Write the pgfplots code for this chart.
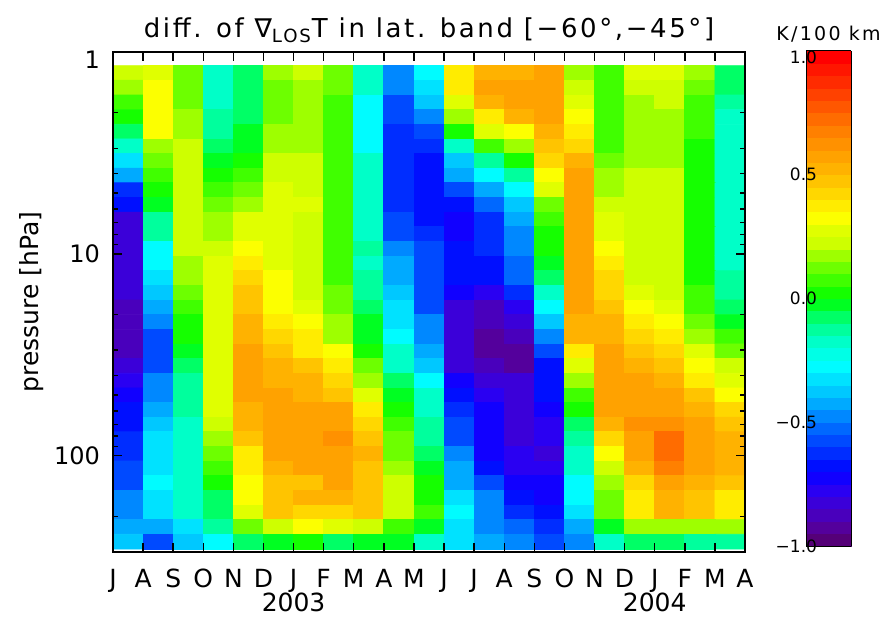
\documentclass[border=0pt]{standalone}
\usepackage{pgfplots}
\pgfplotsset{compat=1.18}
\usepackage{fontspec}
\setmainfont{DejaVu Sans}
\pgfplotsset{
 colormap={idlbase}{rgb255(0cm)=(85,0,120); rgb255(0.045cm)=(85,0,153); rgb255(0.125cm)=(68,0,204); rgb255(0.225cm)=(34,0,255); rgb255(0.275cm)=(0,0,255); rgb255(0.475cm)=(0,119,255); rgb255(0.575cm)=(0,187,255); rgb255(0.705cm)=(0,255,255); rgb255(0.795cm)=(0,255,204); rgb255(0.875cm)=(0,255,136); rgb255(0.975cm)=(0,255,0); rgb255(1.075cm)=(85,255,0); rgb255(1.145cm)=(153,255,0); rgb255(1.195cm)=(204,255,0); rgb255(1.245cm)=(221,255,0); rgb255(1.305cm)=(255,255,0); rgb255(1.425cm)=(255,204,0); rgb255(1.525cm)=(255,170,0); rgb255(1.675cm)=(255,119,0); rgb255(1.95cm)=(255,0,0)},
 colormap={idl}{samples of colormap=(40 of idlbase)},
}
\begin{document}
\begin{tikzpicture}
\begin{axis}[
 name=main,
 scale only axis, width=316pt, height=250pt,
 xmin=0, xmax=21, ymin=0, ymax=2.4771, y dir=reverse,
 xtick={0,...,21},
 xticklabels={J,A,S,O,N,D,{J\\2003},F,M,A,M,J,J,A,S,O,N,D,{J\\2004},F,M,A},
 xticklabel style={align=center, anchor=north, yshift=-5pt, font=\fontsize{12.5}{12}\selectfont},
 ytick={1,2}, yticklabels={10,100},
 extra y ticks={0}, extra y tick labels={1},
 extra y tick style={yticklabel style={yshift=-4pt}},
 minor ytick={0.30103,0.47712,0.60206,0.69897,0.77815,0.8451,0.90309,0.95424,1.30103,1.47712,1.60206,1.69897,1.77815,1.8451,1.90309,1.95424,2.30103},
 yticklabel style={font=\fontsize{12}{14}\selectfont, xshift=-3pt},
 tick align=inside, major tick length=4.5pt, minor tick length=2.5pt,
 every tick/.style={black, line width=0.7pt},
 axis line style={line width=0.9pt},
 ylabel={pressure [hPa]},
 every axis y label/.style={at={(axis description cs:-0.128,0.5)}, rotate=90, anchor=center, font=\fontsize{12.5}{14}\selectfont},
 title={diff. of ∇\textsubscript{LOS}T in lat. band [−60°,−45°]},
 title style={font=\fontsize{13}{15}\selectfont\addfontfeature{LetterSpace=10}, at={(0.5,1)}, anchor=base, yshift=1.5pt},
 colormap name=idl, colormap access=piecewise constant,
 point meta min=-1, point meta max=1,
 colorbar,
 colorbar style={
  at={(parent axis.north east)}, anchor=north west, xshift=22pt, yshift=0.5pt,
  width=22.5pt, height=247.5pt,
  ytick={-1,-0.5,0,0.5}, yticklabels={−1.0,−0.5,0.0,0.5},
  extra y ticks={1}, extra y tick labels={1.0},
  extra y tick style={yticklabel style={yshift=-3pt}},
  yticklabel pos=left, major tick length=0pt,
  yticklabel style={font=\fontsize{8.5}{10}\selectfont, xshift=9pt},
  title={K/100 km}, title style={font=\fontsize{9.5}{12}\selectfont\addfontfeature{LetterSpace=12}, yshift=-5pt},
  axis line style={line width=0.5pt},
 },
 axis on top,
]
\addplot[matrix plot*, point meta=explicit, mesh/cols=21, mesh/rows=33, mesh/ordering=y varies] table[meta=c] {
x y c
0.5 0.1043 0.22
0.5 0.1768 0.17
0.5 0.2494 0.05
0.5 0.3219 0.0
0.5 0.3945 -0.1
0.5 0.4670 -0.18
0.5 0.5396 -0.33
0.5 0.6121 -0.45
0.5 0.6847 -0.63
0.5 0.7572 -0.7
0.5 0.8298 -0.82
0.5 0.9023 -0.82
0.5 0.9749 -0.82
0.5 1.0474 -0.82
0.5 1.1200 -0.82
0.5 1.1925 -0.82
0.5 1.2651 -0.87
0.5 1.3376 -0.87
0.5 1.4102 -0.87
0.5 1.4827 -0.87
0.5 1.5553 -0.85
0.5 1.6278 -0.78
0.5 1.7004 -0.72
0.5 1.7729 -0.66
0.5 1.8455 -0.66
0.5 1.9180 -0.63
0.5 1.9906 -0.63
0.5 2.0631 -0.57
0.5 2.1357 -0.57
0.5 2.2082 -0.5
0.5 2.2808 -0.5
0.5 2.3533 -0.42
0.5 2.4259 -0.4

1.5 0.1043 0.27
1.5 0.1768 0.33
1.5 0.2494 0.33
1.5 0.3219 0.33
1.5 0.3945 0.3
1.5 0.4670 0.17
1.5 0.5396 0.1
1.5 0.6121 0.05
1.5 0.6847 0.0
1.5 0.7572 -0.05
1.5 0.8298 -0.12
1.5 0.9023 -0.15
1.5 0.9749 -0.27
1.5 1.0474 -0.27
1.5 1.1200 -0.33
1.5 1.1925 -0.38
1.5 1.2651 -0.45
1.5 1.3376 -0.5
1.5 1.4102 -0.57
1.5 1.4827 -0.57
1.5 1.5553 -0.57
1.5 1.6278 -0.5
1.5 1.7004 -0.5
1.5 1.7729 -0.45
1.5 1.8455 -0.4
1.5 1.9180 -0.35
1.5 1.9906 -0.35
1.5 2.0631 -0.35
1.5 2.1357 -0.27
1.5 2.2082 -0.35
1.5 2.2808 -0.35
1.5 2.3533 -0.42
1.5 2.4259 -0.57

2.5 0.1043 0.1
2.5 0.1768 0.1
2.5 0.2494 0.1
2.5 0.3219 0.17
2.5 0.3945 0.17
2.5 0.4670 0.22
2.5 0.5396 0.22
2.5 0.6121 0.22
2.5 0.6847 0.22
2.5 0.7572 0.22
2.5 0.8298 0.22
2.5 0.9023 0.22
2.5 0.9749 0.22
2.5 1.0474 0.17
2.5 1.1200 0.17
2.5 1.1925 0.1
2.5 1.2651 0.05
2.5 1.3376 0.02
2.5 1.4102 0.02
2.5 1.4827 -0.05
2.5 1.5553 -0.1
2.5 1.6278 -0.13
2.5 1.7004 -0.13
2.5 1.7729 -0.13
2.5 1.8455 -0.18
2.5 1.9180 -0.18
2.5 1.9906 -0.18
2.5 2.0631 -0.18
2.5 2.1357 -0.18
2.5 2.2082 -0.18
2.5 2.2808 -0.18
2.5 2.3533 -0.33
2.5 2.4259 -0.4

3.5 0.1043 -0.18
3.5 0.1768 -0.18
3.5 0.2494 -0.18
3.5 0.3219 -0.13
3.5 0.3945 -0.13
3.5 0.4670 -0.1
3.5 0.5396 -0.05
3.5 0.6121 0.0
3.5 0.6847 0.05
3.5 0.7572 0.1
3.5 0.8298 0.17
3.5 0.9023 0.17
3.5 0.9749 0.22
3.5 1.0474 0.25
3.5 1.1200 0.25
3.5 1.1925 0.27
3.5 1.2651 0.27
3.5 1.3376 0.27
3.5 1.4102 0.27
3.5 1.4827 0.27
3.5 1.5553 0.27
3.5 1.6278 0.27
3.5 1.7004 0.27
3.5 1.7729 0.27
3.5 1.8455 0.22
3.5 1.9180 0.17
3.5 1.9906 0.1
3.5 2.0631 0.05
3.5 2.1357 0.02
3.5 2.2082 -0.07
3.5 2.2808 -0.1
3.5 2.3533 -0.13
3.5 2.4259 -0.27

4.5 0.1043 -0.1
4.5 0.1768 -0.1
4.5 0.2494 -0.1
4.5 0.3219 -0.1
4.5 0.3945 -0.05
4.5 0.4670 -0.05
4.5 0.5396 0.0
4.5 0.6121 0.05
4.5 0.6847 0.1
4.5 0.7572 0.17
4.5 0.8298 0.25
4.5 0.9023 0.25
4.5 0.9749 0.3
4.5 1.0474 0.36
4.5 1.1200 0.42
4.5 1.1925 0.45
4.5 1.2651 0.48
4.5 1.3376 0.5
4.5 1.4102 0.5
4.5 1.4827 0.55
4.5 1.5553 0.55
4.5 1.6278 0.55
4.5 1.7004 0.55
4.5 1.7729 0.5
4.5 1.8455 0.5
4.5 1.9180 0.47
4.5 1.9906 0.38
4.5 2.0631 0.38
4.5 2.1357 0.34
4.5 2.2082 0.3
4.5 2.2808 0.27
4.5 2.3533 0.1
4.5 2.4259 -0.1

5.5 0.1043 0.17
5.5 0.1768 0.1
5.5 0.2494 0.1
5.5 0.3219 0.1
5.5 0.3945 0.17
5.5 0.4670 0.17
5.5 0.5396 0.22
5.5 0.6121 0.22
5.5 0.6847 0.25
5.5 0.7572 0.25
5.5 0.8298 0.25
5.5 0.9023 0.27
5.5 0.9749 0.25
5.5 1.0474 0.27
5.5 1.1200 0.3
5.5 1.1925 0.33
5.5 1.2651 0.34
5.5 1.3376 0.38
5.5 1.4102 0.42
5.5 1.4827 0.46
5.5 1.5553 0.5
5.5 1.6278 0.5
5.5 1.7004 0.55
5.5 1.7729 0.55
5.5 1.8455 0.57
5.5 1.9180 0.57
5.5 1.9906 0.55
5.5 2.0631 0.5
5.5 2.1357 0.47
5.5 2.2082 0.47
5.5 2.2808 0.47
5.5 2.3533 0.22
5.5 2.4259 -0.05

6.5 0.1043 0.22
6.5 0.1768 0.17
6.5 0.2494 0.17
6.5 0.3219 0.17
6.5 0.3945 0.17
6.5 0.4670 0.17
6.5 0.5396 0.22
6.5 0.6121 0.22
6.5 0.6847 0.24
6.5 0.7572 0.27
6.5 0.8298 0.24
6.5 0.9023 0.24
6.5 0.9749 0.24
6.5 1.0474 0.24
6.5 1.1200 0.24
6.5 1.1925 0.24
6.5 1.2651 0.28
6.5 1.3376 0.33
6.5 1.4102 0.35
6.5 1.4827 0.38
6.5 1.5553 0.45
6.5 1.6278 0.5
6.5 1.7004 0.52
6.5 1.7729 0.55
6.5 1.8455 0.57
6.5 1.9180 0.57
6.5 1.9906 0.55
6.5 2.0631 0.55
6.5 2.1357 0.47
6.5 2.2082 0.52
6.5 2.2808 0.4
6.5 2.3533 0.33
6.5 2.4259 0.0

7.5 0.1043 0.1
7.5 0.1768 0.1
7.5 0.2494 0.05
7.5 0.3219 0.05
7.5 0.3945 0.05
7.5 0.4670 0.05
7.5 0.5396 0.05
7.5 0.6121 0.05
7.5 0.6847 0.05
7.5 0.7572 0.05
7.5 0.8298 0.05
7.5 0.9023 0.05
7.5 0.9749 0.05
7.5 1.0474 0.05
7.5 1.1200 0.05
7.5 1.1925 0.1
7.5 1.2651 0.1
7.5 1.3376 0.17
7.5 1.4102 0.17
7.5 1.4827 0.3
7.5 1.5553 0.38
7.5 1.6278 0.42
7.5 1.7004 0.46
7.5 1.7729 0.57
7.5 1.8455 0.57
7.5 1.9180 0.62
7.5 1.9906 0.58
7.5 2.0631 0.57
7.5 2.1357 0.55
7.5 2.2082 0.52
7.5 2.2808 0.42
7.5 2.3533 0.27
7.5 2.4259 -0.1

8.5 0.1043 -0.18
8.5 0.1768 -0.18
8.5 0.2494 -0.27
8.5 0.3219 -0.27
8.5 0.3945 -0.27
8.5 0.4670 -0.27
8.5 0.5396 -0.2
8.5 0.6121 -0.2
8.5 0.6847 -0.18
8.5 0.7572 -0.18
8.5 0.8298 -0.18
8.5 0.9023 -0.18
8.5 0.9749 -0.12
8.5 1.0474 -0.18
8.5 1.1200 -0.14
8.5 1.1925 -0.14
8.5 1.2651 -0.1
8.5 1.3376 -0.05
8.5 1.4102 -0.05
8.5 1.4827 0.0
8.5 1.5553 0.1
8.5 1.6278 0.17
8.5 1.7004 0.27
8.5 1.7729 0.38
8.5 1.8455 0.42
8.5 1.9180 0.46
8.5 1.9906 0.5
8.5 2.0631 0.47
8.5 2.1357 0.47
8.5 2.2082 0.47
8.5 2.2808 0.47
8.5 2.3533 0.22
8.5 2.4259 -0.05

9.5 0.1043 -0.5
9.5 0.1768 -0.5
9.5 0.2494 -0.57
9.5 0.3219 -0.57
9.5 0.3945 -0.62
9.5 0.4670 -0.62
9.5 0.5396 -0.62
9.5 0.6121 -0.62
9.5 0.6847 -0.62
9.5 0.7572 -0.62
9.5 0.8298 -0.57
9.5 0.9023 -0.57
9.5 0.9749 -0.5
9.5 1.0474 -0.45
9.5 1.1200 -0.45
9.5 1.1925 -0.4
9.5 1.2651 -0.35
9.5 1.3376 -0.35
9.5 1.4102 -0.27
9.5 1.4827 -0.2
9.5 1.5553 -0.18
9.5 1.6278 -0.1
9.5 1.7004 -0.05
9.5 1.7729 0.0
9.5 1.8455 0.05
9.5 1.9180 0.1
9.5 1.9906 0.1
9.5 2.0631 0.17
9.5 2.1357 0.22
9.5 2.2082 0.22
9.5 2.2808 0.22
9.5 2.3533 0.05
9.5 2.4259 -0.05

10.5 0.1043 -0.27
10.5 0.1768 -0.33
10.5 0.2494 -0.4
10.5 0.3219 -0.5
10.5 0.3945 -0.57
10.5 0.4670 -0.63
10.5 0.5396 -0.7
10.5 0.6121 -0.7
10.5 0.6847 -0.7
10.5 0.7572 -0.7
10.5 0.8298 -0.67
10.5 0.9023 -0.63
10.5 0.9749 -0.57
10.5 1.0474 -0.57
10.5 1.1200 -0.57
10.5 1.1925 -0.57
10.5 1.2651 -0.57
10.5 1.3376 -0.5
10.5 1.4102 -0.5
10.5 1.4827 -0.45
10.5 1.5553 -0.4
10.5 1.6278 -0.27
10.5 1.7004 -0.2
10.5 1.7729 -0.18
10.5 1.8455 -0.13
10.5 1.9180 -0.12
10.5 1.9906 -0.1
10.5 2.0631 -0.05
10.5 2.1357 0.0
10.5 2.2082 0.0
10.5 2.2808 0.05
10.5 2.3533 -0.05
10.5 2.4259 -0.18

11.5 0.1043 0.38
11.5 0.1768 0.38
11.5 0.2494 0.27
11.5 0.3219 0.17
11.5 0.3945 0.02
11.5 0.4670 -0.18
11.5 0.5396 -0.4
11.5 0.6121 -0.45
11.5 0.6847 -0.6
11.5 0.7572 -0.7
11.5 0.8298 -0.72
11.5 0.9023 -0.72
11.5 0.9749 -0.67
11.5 1.0474 -0.67
11.5 1.1200 -0.67
11.5 1.1925 -0.72
11.5 1.2651 -0.85
11.5 1.3376 -0.85
11.5 1.4102 -0.85
11.5 1.4827 -0.85
11.5 1.5553 -0.85
11.5 1.6278 -0.72
11.5 1.7004 -0.66
11.5 1.7729 -0.63
11.5 1.8455 -0.57
11.5 1.9180 -0.57
11.5 1.9906 -0.5
11.5 2.0631 -0.45
11.5 2.1357 -0.45
11.5 2.2082 -0.35
11.5 2.2808 -0.27
11.5 2.3533 -0.35
11.5 2.4259 -0.35

12.5 0.1043 0.5
12.5 0.1768 0.55
12.5 0.2494 0.5
12.5 0.3219 0.38
12.5 0.3945 0.27
12.5 0.4670 0.05
12.5 0.5396 -0.13
12.5 0.6121 -0.27
12.5 0.6847 -0.45
12.5 0.7572 -0.55
12.5 0.8298 -0.62
12.5 0.9023 -0.65
12.5 0.9749 -0.63
12.5 1.0474 -0.66
12.5 1.1200 -0.66
12.5 1.1925 -0.77
12.5 1.2651 -0.86
12.5 1.3376 -0.9
12.5 1.4102 -0.95
12.5 1.4827 -0.95
12.5 1.5553 -0.9
12.5 1.6278 -0.85
12.5 1.7004 -0.78
12.5 1.7729 -0.72
12.5 1.8455 -0.72
12.5 1.9180 -0.72
12.5 1.9906 -0.72
12.5 2.0631 -0.66
12.5 2.1357 -0.57
12.5 2.2082 -0.5
12.5 2.2808 -0.5
12.5 2.3533 -0.5
12.5 2.4259 -0.45

13.5 0.1043 0.5
13.5 0.1768 0.55
13.5 0.2494 0.55
13.5 0.3219 0.5
13.5 0.3945 0.33
13.5 0.4670 0.17
13.5 0.5396 0.0
13.5 0.6121 -0.13
13.5 0.6847 -0.27
13.5 0.7572 -0.4
13.5 0.8298 -0.45
13.5 0.9023 -0.5
13.5 0.9749 -0.5
13.5 1.0474 -0.55
13.5 1.1200 -0.55
13.5 1.1925 -0.63
13.5 1.2651 -0.77
13.5 1.3376 -0.85
13.5 1.4102 -0.87
13.5 1.4827 -0.93
13.5 1.5553 -0.93
13.5 1.6278 -0.85
13.5 1.7004 -0.85
13.5 1.7729 -0.85
13.5 1.8455 -0.85
13.5 1.9180 -0.82
13.5 1.9906 -0.78
13.5 2.0631 -0.78
13.5 2.1357 -0.72
13.5 2.2082 -0.66
13.5 2.2808 -0.63
13.5 2.3533 -0.55
13.5 2.4259 -0.5

14.5 0.1043 0.57
14.5 0.1768 0.57
14.5 0.2494 0.57
14.5 0.3219 0.57
14.5 0.3945 0.5
14.5 0.4670 0.47
14.5 0.5396 0.4
14.5 0.6121 0.3
14.5 0.6847 0.27
14.5 0.7572 0.1
14.5 0.8298 0.05
14.5 0.9023 0.0
14.5 0.9749 0.0
14.5 1.0474 -0.05
14.5 1.1200 -0.1
14.5 1.1925 -0.18
14.5 1.2651 -0.27
14.5 1.3376 -0.4
14.5 1.4102 -0.5
14.5 1.4827 -0.57
14.5 1.5553 -0.66
14.5 1.6278 -0.66
14.5 1.7004 -0.66
14.5 1.7729 -0.72
14.5 1.8455 -0.78
14.5 1.9180 -0.78
14.5 1.9906 -0.82
14.5 2.0631 -0.78
14.5 2.1357 -0.72
14.5 2.2082 -0.72
14.5 2.2808 -0.7
14.5 2.3533 -0.63
14.5 2.4259 -0.57

15.5 0.1043 0.17
15.5 0.1768 0.22
15.5 0.2494 0.27
15.5 0.3219 0.33
15.5 0.3945 0.38
15.5 0.4670 0.42
15.5 0.5396 0.5
15.5 0.6121 0.55
15.5 0.6847 0.57
15.5 0.7572 0.57
15.5 0.8298 0.57
15.5 0.9023 0.57
15.5 0.9749 0.57
15.5 1.0474 0.57
15.5 1.1200 0.57
15.5 1.1925 0.57
15.5 1.2651 0.57
15.5 1.3376 0.52
15.5 1.4102 0.5
15.5 1.4827 0.38
15.5 1.5553 0.27
15.5 1.6278 0.17
15.5 1.7004 0.05
15.5 1.7729 0.0
15.5 1.8455 -0.08
15.5 1.9180 -0.12
15.5 1.9906 -0.18
15.5 2.0631 -0.2
15.5 2.1357 -0.27
15.5 2.2082 -0.27
15.5 2.2808 -0.35
15.5 2.3533 -0.45
15.5 2.4259 -0.5

16.5 0.1043 0.05
16.5 0.1768 0.05
16.5 0.2494 0.05
16.5 0.3219 0.05
16.5 0.3945 0.05
16.5 0.4670 0.05
16.5 0.5396 0.1
16.5 0.6121 0.17
16.5 0.6847 0.17
16.5 0.7572 0.22
16.5 0.8298 0.27
16.5 0.9023 0.27
16.5 0.9749 0.33
16.5 1.0474 0.38
16.5 1.1200 0.42
16.5 1.1925 0.42
16.5 1.2651 0.46
16.5 1.3376 0.5
16.5 1.4102 0.5
16.5 1.4827 0.55
16.5 1.5553 0.55
16.5 1.6278 0.55
16.5 1.7004 0.55
16.5 1.7729 0.55
16.5 1.8455 0.5
16.5 1.9180 0.42
16.5 1.9906 0.33
16.5 2.0631 0.22
16.5 2.1357 0.17
16.5 2.2082 0.1
16.5 2.2808 0.1
16.5 2.3533 -0.05
16.5 2.4259 -0.18

17.5 0.1043 0.27
17.5 0.1768 0.22
17.5 0.2494 0.17
17.5 0.3219 0.17
17.5 0.3945 0.17
17.5 0.4670 0.17
17.5 0.5396 0.17
17.5 0.6121 0.22
17.5 0.6847 0.22
17.5 0.7572 0.22
17.5 0.8298 0.22
17.5 0.9023 0.22
17.5 0.9749 0.22
17.5 1.0474 0.22
17.5 1.1200 0.22
17.5 1.1925 0.25
17.5 1.2651 0.33
17.5 1.3376 0.38
17.5 1.4102 0.42
17.5 1.4827 0.46
17.5 1.5553 0.5
17.5 1.6278 0.55
17.5 1.7004 0.57
17.5 1.7729 0.57
17.5 1.8455 0.62
17.5 1.9180 0.58
17.5 1.9906 0.57
17.5 2.0631 0.52
17.5 2.1357 0.42
17.5 2.2082 0.38
17.5 2.2808 0.38
17.5 2.3533 0.17
17.5 2.4259 -0.1

18.5 0.1043 0.27
18.5 0.1768 0.22
18.5 0.2494 0.22
18.5 0.3219 0.17
18.5 0.3945 0.17
18.5 0.4670 0.17
18.5 0.5396 0.17
18.5 0.6121 0.22
18.5 0.6847 0.22
18.5 0.7572 0.22
18.5 0.8298 0.22
18.5 0.9023 0.22
18.5 0.9749 0.22
18.5 1.0474 0.22
18.5 1.1200 0.22
18.5 1.1925 0.22
18.5 1.2651 0.27
18.5 1.3376 0.34
18.5 1.4102 0.38
18.5 1.4827 0.42
18.5 1.5553 0.46
18.5 1.6278 0.52
18.5 1.7004 0.55
18.5 1.7729 0.57
18.5 1.8455 0.62
18.5 1.9180 0.7
18.5 1.9906 0.7
18.5 2.0631 0.67
18.5 2.1357 0.58
18.5 2.2082 0.52
18.5 2.2808 0.52
18.5 2.3533 0.17
18.5 2.4259 -0.1

19.5 0.1043 0.17
19.5 0.1768 0.1
19.5 0.2494 0.05
19.5 0.3219 0.05
19.5 0.3945 0.05
19.5 0.4670 0.0
19.5 0.5396 0.0
19.5 0.6121 0.0
19.5 0.6847 0.0
19.5 0.7572 0.0
19.5 0.8298 0.0
19.5 0.9023 0.0
19.5 0.9749 0.0
19.5 1.0474 0.0
19.5 1.1200 0.0
19.5 1.1925 0.05
19.5 1.2651 0.05
19.5 1.3376 0.1
19.5 1.4102 0.17
19.5 1.4827 0.27
19.5 1.5553 0.33
19.5 1.6278 0.38
19.5 1.7004 0.46
19.5 1.7729 0.5
19.5 1.8455 0.55
19.5 1.9180 0.57
19.5 1.9906 0.57
19.5 2.0631 0.55
19.5 2.1357 0.5
19.5 2.2082 0.46
19.5 2.2808 0.46
19.5 2.3533 0.17
19.5 2.4259 -0.13

20.5 0.1043 -0.1
20.5 0.1768 -0.1
20.5 0.2494 -0.13
20.5 0.3219 -0.18
20.5 0.3945 -0.18
20.5 0.4670 -0.2
20.5 0.5396 -0.2
20.5 0.6121 -0.18
20.5 0.6847 -0.18
20.5 0.7572 -0.18
20.5 0.8298 -0.18
20.5 0.9023 -0.18
20.5 0.9749 -0.18
20.5 1.0474 -0.18
20.5 1.1200 -0.14
20.5 1.1925 -0.14
20.5 1.2651 -0.1
20.5 1.3376 -0.05
20.5 1.4102 0.05
20.5 1.4827 0.1
20.5 1.5553 0.22
20.5 1.6278 0.27
20.5 1.7004 0.33
20.5 1.7729 0.42
20.5 1.8455 0.46
20.5 1.9180 0.5
20.5 1.9906 0.5
20.5 2.0631 0.5
20.5 2.1357 0.47
20.5 2.2082 0.38
20.5 2.2808 0.38
20.5 2.3533 0.17
20.5 2.4259 -0.15
};
\end{axis}
\pgfresetboundingbox
\path ([shift={(-56.5pt,-32.5pt)}]main.south west) rectangle ([shift={(388.5pt,276pt)}]main.south west);
\end{tikzpicture}
\end{document}
